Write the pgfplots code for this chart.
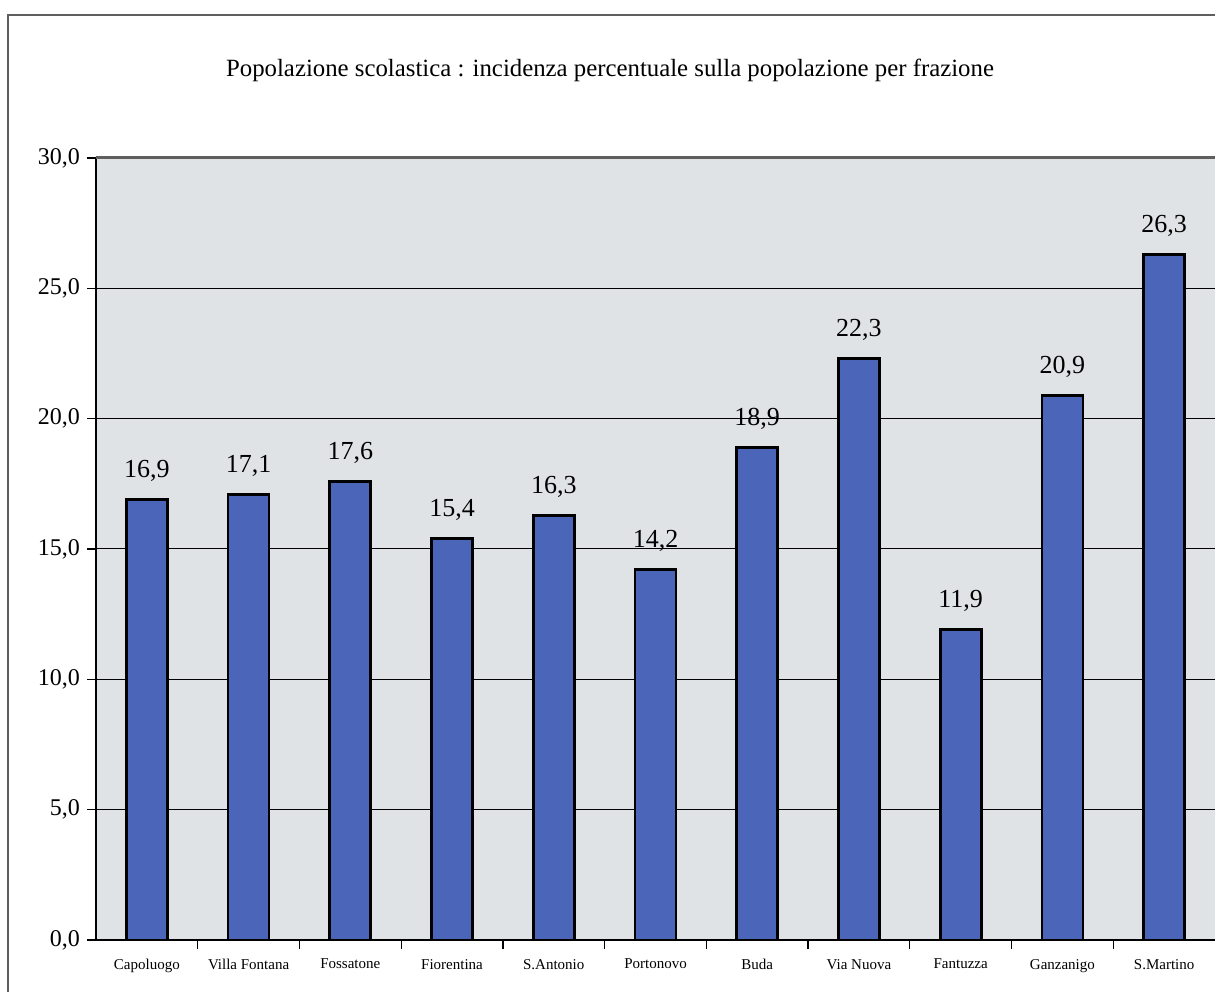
\documentclass[border=0pt]{standalone}
\usepackage{fontspec}
\setmainfont{Liberation Serif}
\usepackage{pgfplots}
\pgfplotsset{compat=1.18}
\definecolor{barblue}{RGB}{75,102,185}
\definecolor{plotbg}{RGB}{224,227,229}
\definecolor{frameg}{RGB}{95,95,95}

\begin{document}
\begin{tikzpicture}[x=1pt,y=1pt]
    % page = 1215 x 991 px at 0.5pt per px, origin at the axis' lower left
    \useasboundingbox (-48,-25.5) rectangle (559.5,470);
    \draw[line width=0.8pt, frameg] (-44,-40) -- (-44,462.5) -- (600,462.5);

    \node[font=\fontsize{12.4}{15}\selectfont] at (257,435)
        {Popolazione scolastica : incidenza percentuale sulla popolazione per frazione};

    \begin{axis}[
        at={(0,0)}, anchor=south west,
        scale only axis, width=559.5pt, height=391pt,
        xmin=-0.5, xmax=10.5, ymin=0, ymax=30,
        axis line style={draw=none},
        axis background/.style={fill=plotbg},
        xtick pos=bottom, ytick pos=left,
        ytick={0,5,...,30},
        ymajorgrids,
        grid style={black, line width=0.5pt},
        tick align=outside,
        major tick length=4.5pt,
        tick style={black, line width=0.6pt},
        xtick={0.5,1.5,...,9.5},
        xticklabels={},
        extra x ticks={0,1,...,10},
        extra x tick labels={Capoluogo,Villa Fontana,Fossatone,Fiorentina,S.Antonio,Portonovo,Buda,Via Nuova,Fantuzza,Ganzanigo,S.Martino},
        extra x tick style={major tick length=0pt, grid=none},
        xticklabel style={font=\fontsize{7.5}{9}\selectfont, yshift=-6pt},
        yticklabel style={font=\fontsize{12}{14}\selectfont},
        /pgf/number format/assume math mode=true,
        yticklabel={\pgfmathprintnumber[fixed,fixed zerofill,precision=1,use comma]{\tick}},
        clip=false,
        ]
        \addplot[ybar, bar width=20.5pt, fill=barblue, draw=black, line width=1.4pt,
            nodes near coords={\pgfmathprintnumber[fixed,fixed zerofill,precision=1,use comma,assume math mode=true]{\pgfplotspointmeta}},
            every node near coord/.append style={font=\fontsize{13}{15}\selectfont, black, yshift=5pt}]
            coordinates {(0,16.9) (1,17.1) (2,17.6) (3,15.4) (4,16.3) (5,14.2)
                         (6,18.9) (7,22.3) (8,11.9) (9,20.9) (10,26.3)};
        \draw[black, line width=1pt] (rel axis cs:0,1) -- (rel axis cs:0,0) -- (rel axis cs:1,0);
        \draw[frameg, line width=1.5pt] (rel axis cs:0,1) -- (rel axis cs:1,1);
    \end{axis}
\end{tikzpicture}
\end{document}
